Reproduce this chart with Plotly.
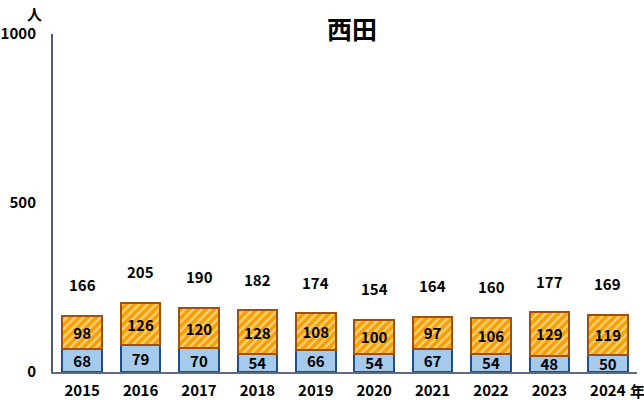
import plotly.graph_objects as go

years = ["2015", "2016", "2017", "2018", "2019", "2020", "2021", "2022", "2023", "2024"]
lower = [68, 79, 70, 54, 66, 54, 67, 54, 48, 50]
upper = [98, 126, 120, 128, 108, 100, 97, 106, 129, 119]
totals = [166, 205, 190, 182, 174, 154, 164, 160, 177, 169]
y_ticks = [0, 500, 1000]

FONT = "Noto Sans CJK JP"

fig = go.Figure()
fig.add_trace(go.Bar(
    x=years, y=lower, text=lower, textposition="inside", insidetextanchor="middle",
    constraintext="none", textangle=0,
    textfont=dict(size=15, color="black", family=FONT, weight="bold"),
    marker=dict(color="#a6caec", line=dict(color="#1f4e8c", width=2)),
    width=0.68, showlegend=False,
))
fig.add_trace(go.Bar(
    x=years, y=upper, text=upper, textposition="inside", insidetextanchor="middle",
    constraintext="none", textangle=0,
    textfont=dict(size=15, color="black", family=FONT, weight="bold"),
    marker=dict(
        color="#f5a000",
        line=dict(color="#a0500a", width=2),
        pattern=dict(shape="/", fgcolor="white", bgcolor="#f5a000", size=6, solidity=0.4),
    ),
    width=0.68, showlegend=False,
))

# totals above the bars (x by category index)
for i, t in enumerate(totals):
    fig.add_annotation(x=i, y=t, text=str(t), showarrow=False, yshift=31,
                       font=dict(size=15, color="black", family=FONT, weight="bold"))

fig.add_annotation(xref="paper", yref="paper", x=0.5, y=1.0, yanchor="middle", text="西田",
                   showarrow=False, yshift=6, xshift=7,
                   font=dict(size=25, color="black", family=FONT, weight="bold"))
fig.add_annotation(xref="paper", yref="paper", x=-0.031, y=1.0, xanchor="center",
                   yanchor="middle", text="人", showarrow=False, yshift=21,
                   font=dict(size=15, color="black", family=FONT, weight="bold"))
fig.add_annotation(xref="paper", yref="paper", x=1.0, y=0, xanchor="center",
                   yanchor="middle", text="年", showarrow=False, yshift=-18,
                   font=dict(size=15, color="black", family=FONT, weight="bold"))

fig.update_layout(
    width=644, height=402,
    margin=dict(l=53, r=7, t=34, b=30),
    barmode="stack", bargap=0.32,
    plot_bgcolor="white", paper_bgcolor="white",
    font=dict(family=FONT, size=15, color="black"),
)
fig.update_xaxes(type="category", range=[-0.5, 9.5], automargin=False, showline=True,
                 linecolor="#5a6b85", linewidth=2, showgrid=False, ticks="",
                 ticklabelstandoff=4, tickfont=dict(size=15, family=FONT, weight="bold"))
fig.update_yaxes(range=[0, 1000], tickvals=y_ticks, automargin=False, showline=True,
                 linecolor="#4a5a78", linewidth=2, showgrid=False, zeroline=False, ticks="",
                 ticklabelstandoff=12, tickfont=dict(size=15, family=FONT, weight="bold"))

# drop the default 8px body margin so the figure sits at the page corner
fig.write_html("out.html", config={"displayModeBar": False},
               post_script="document.body.style.margin='0';")
